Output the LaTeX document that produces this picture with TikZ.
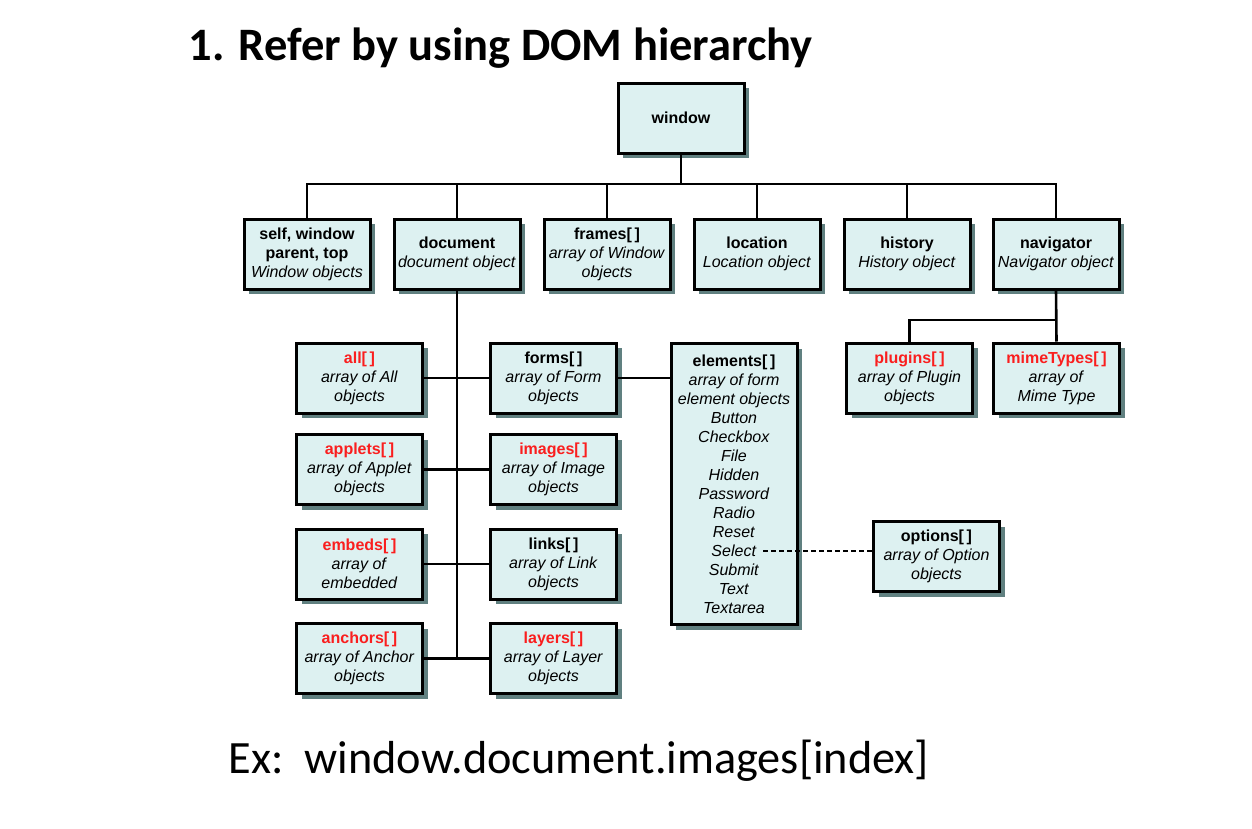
\documentclass[tikz,border=0pt]{standalone}
\usepackage{fontspec}
\setmainfont{Carlito}
\newfontfamily\arialfont{Liberation Sans}
\usepackage{tikz}
\usetikzlibrary{shadows, calc}
\definecolor{boxfill}{RGB}{221, 241, 241}
\definecolor{boxshade}{RGB}{96, 128, 128}
\definecolor{domred}{RGB}{250, 30, 30}

\begin{document}
\begin{tikzpicture}[x=1pt, y=-1pt, line width=2.6pt,
    obj/.style={draw, line width=3pt, fill=boxfill, minimum width=126pt, minimum height=70pt,
      inner sep=1pt, align=center, font=\arialfont\fontsize{16}{19}\selectfont,
      drop shadow={shadow xshift=5pt, shadow yshift=-5pt, fill=boxshade, opacity=1}}]
  \useasboundingbox (0, 0) rectangle (1252, 828);
  \node[anchor=base west, font=\fontsize{46.5}{50}\selectfont\bfseries] (title) at (184, 60) {1. Refer by using DOM hierarchy};
  \node[obj] (window) at (681, 118) {\textbf{window}};
  % second level
  \node[obj] (self) at (307, 254) {\textbf{self, window}\\\textbf{parent, top}\\\textit{Window objects}};
  \node[obj] (doc) at (457, 254) {\textbf{document}\\\textit{document object}};
  \node[obj] (frames) at (607, 254) {\textbf{frames[\,]}\\\textit{array of Window}\\\textit{objects}};
  \node[obj] (location) at (757, 254) {\textbf{location}\\\textit{Location object}};
  \node[obj] (history) at (907, 254) {\textbf{history}\\\textit{History object}};
  \node[obj] (nav) at (1056, 254) {\textbf{navigator}\\\textit{Navigator object}};
  % document children
  \node[obj] (all) at (359.5, 378) {\textcolor{domred}{\textbf{all[\,]}}\\\textit{array of All}\\\textit{objects}};
  \node[obj] (forms) at (553.5, 378) {\textbf{forms[\,]}\\\textit{array of Form}\\\textit{objects}};
  \node[obj] (applets) at (359.5, 469.5) {\textcolor{domred}{\textbf{applets[\,]}}\\\textit{array of Applet}\\\textit{objects}};
  \node[obj] (images) at (553.5, 469.5) {\textcolor{domred}{\textbf{images[\,]}}\\\textit{array of Image}\\\textit{objects}};
  \node[obj] (embeds) at (359.5, 564) {\textcolor{domred}{\textbf{embeds[\,]}}\\\textit{array of}\\\textit{embedded}};
  \node[obj] (links) at (553.5, 564) {\textbf{links[\,]}\\\textit{array of Link}\\\textit{objects}};
  \node[obj] (anchors) at (359.5, 658.5) {\textcolor{domred}{\textbf{anchors[\,]}}\\\textit{array of Anchor}\\\textit{objects}};
  \node[obj] (layers) at (553.5, 658.5) {\textcolor{domred}{\textbf{layers[\,]}}\\\textit{array of Layer}\\\textit{objects}};
  \node[obj, minimum height=281pt] (elements) at (734, 484) {\textbf{elements[\,]}\\\textit{array of form}\\\textit{element objects}\\\textit{Button}\\\textit{Checkbox}\\\textit{File}\\\textit{Hidden}\\\textit{Password}\\\textit{Radio}\\\textit{Reset}\\\textit{Select}\\\textit{Submit}\\\textit{Text}\\\textit{Textarea}};
  \node[obj] (options) at (936.5, 556.5) {\textbf{options[\,]}\\\textit{array of Option}\\\textit{objects}};
  % navigator children
  \node[obj] (plugins) at (909.5, 378) {\textcolor{domred}{\textbf{plugins[\,]}}\\\textit{array of Plugin}\\\textit{objects}};
  \node[obj] (mime) at (1056.5, 378) {\textcolor{domred}{\textbf{mimeTypes[\,]}}\\\textit{array of}\\\textit{Mime Type}};
  \node[anchor=base west, font=\fontsize{46.3}{50}\selectfont] (example) at (224, 773) {Ex:\ \ window.document.images[index]};
  % connectors
  \coordinate (bus) at (681, 184);
  \coordinate (navbus) at (1056, 320);
  \coordinate (sel) at (763, 551);
  \draw (window.south) -- (window.south |- bus);
  \draw (self.north) |- (bus) -| (nav.north);
  \foreach \n in {doc, frames, location, history}
    \draw (\n.north) -- (\n.north |- bus);
  \draw (doc.south) -- (doc.south |- anchors.east);
  \foreach \a/\b in {all/forms, applets/images, embeds/links, anchors/layers}
    \draw (\a.east) -- (\b.west);
  \draw (forms.east) -- (forms.east -| elements.west);
  \draw (nav.south) -- (mime.north);
  \draw (plugins.north) |- (navbus);
  \draw[dash pattern=on 5pt off 3pt, line width=2pt] (sel) -- (sel -| options.west);
\end{tikzpicture}
\end{document}
